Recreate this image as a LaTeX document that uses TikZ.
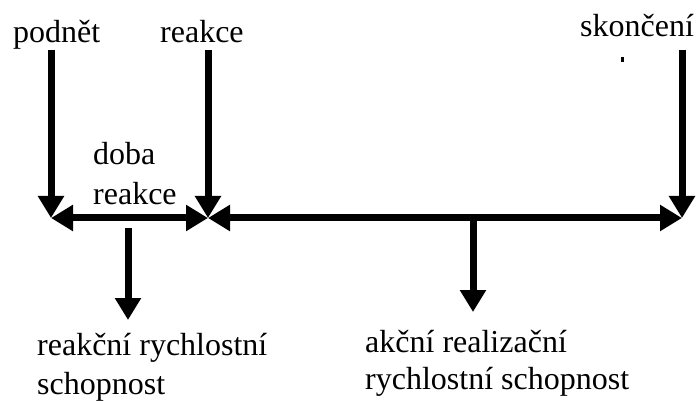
\documentclass[tikz,border=0pt]{standalone}
\usepackage{fontspec}
\setmainfont{Liberation Serif}
\usetikzlibrary{arrows.meta}
\begin{document}
\begin{tikzpicture}[x=1pt,y=-1pt,
  lbl/.style={anchor=base west,inner sep=0pt,font=\fontsize{32}{38}\selectfont},
  arr/.style={line width=7pt,-{Triangle[length=22pt,width=25pt]}},
  darr/.style={line width=7pt,{Triangle[length=22pt,width=25pt]}-{Triangle[length=22pt,width=25pt]}}]
\useasboundingbox (0,0) rectangle (697,401);
% key points
\coordinate (p) at (51,218);
\coordinate (r) at (208,218);
\coordinate (s) at (682,218);
\coordinate (pt) at (51,50);
\coordinate (rt) at (208,50);
\coordinate (st) at (682,50);
\coordinate (d1a) at (128,228);
\coordinate (d1b) at (128,320);
\coordinate (d2a) at (473,218);
\coordinate (d2b) at (473,312);
% labels
\node[lbl] (tp) at (13,43) {podnět};
\node[lbl] (tr) at (160,43) {reakce};
\node[lbl] (ts) at (580,37) {skončení};
\node[lbl] (td) at (93,165) {doba};
\node[lbl] (tdr) at (93,205) {reakce};
\node[lbl] (b1) at (37,355) {reakční rychlostní};
\node[lbl] (b2) at (37,394) {schopnost};
\node[lbl] (c1) at (365,352) {akční realizační};
\node[lbl] (c2) at (365,389) {rychlostní schopnost};
% arrows
\draw[arr] (pt) -- (p);
\draw[arr] (rt) -- (r);
\draw[arr] (st) -- (s);
\draw[darr] (p) -- (r);
\draw[darr] (r) -- (s);
\draw[arr] (d1a) -- (d1b);
\draw[arr] (d2a) -- (d2b);
% clipped text fragment
\fill (621,57) rectangle (624,62);
\end{tikzpicture}
\end{document}
